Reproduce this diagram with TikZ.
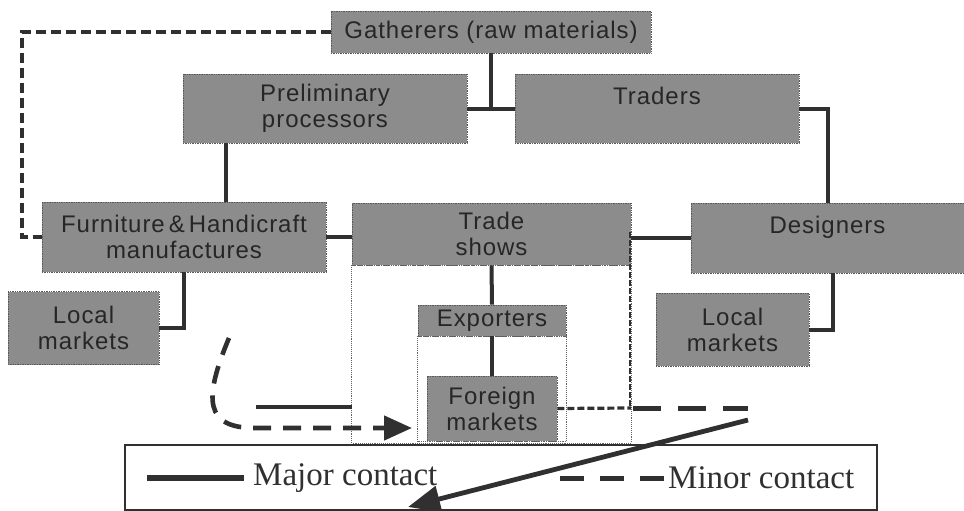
\documentclass[tikz,border=0pt]{standalone}
\usepackage{fontspec}
\setmainfont{Liberation Serif}
\newfontfamily\boxfont{Liberation Sans}[LetterSpace=4]
\usetikzlibrary{arrows.meta}
\definecolor{boxgray}{HTML}{8C8C8C}
\definecolor{ink}{HTML}{303030}
\definecolor{boxtext}{HTML}{262626}

\begin{document}
\begin{tikzpicture}[x=1pt,y=-1pt,
  box/.style={draw=ink!80, densely dotted, line width=0.7pt, fill=boxgray,
    text=boxtext, align=center, inner sep=0pt,
    font=\boxfont\fontsize{24}{26}\selectfont},
  major/.style={draw=ink, line width=4pt},
  minor/.style={draw=ink, line width=4pt, dash pattern=on 10pt off 5pt},
  frame/.style={draw=ink!75, line width=0.9pt, densely dotted},
  legend/.style={inner sep=0pt, text=ink, font=\fontsize{33}{36}\selectfont},
]
\useasboundingbox (0,0) rectangle (964,511);

% supply chain actors
\node[box, minimum width=320pt, minimum height=42pt] (gath) at (491,32) {Gatherers (raw materials)};
\node[box, minimum width=284pt, minimum height=69pt] (prelim) at (325,108.5) {Preliminary\\processors};
\node[box, minimum width=284pt, minimum height=69pt] (traders) at (657,108.5) {Traders\\\mbox{}};
\node[box, minimum width=284pt, minimum height=70pt] (furn) at (184,237) {Furniture\,\&\,Handicraft\\manufactures};
\node[box, minimum width=279pt, minimum height=62pt] (trade) at (491.5,234) {Trade\\shows};
\node[box, minimum width=273pt, minimum height=70pt] (design) at (827.5,238) {Designers\\\mbox{}};
\node[box, minimum width=151pt, minimum height=73pt] (localL) at (83.5,328) {Local\\markets};
\node[box, minimum width=153pt, minimum height=73pt] (localR) at (732.5,329.5) {Local\\markets};
\node[box, minimum width=148pt, minimum height=31pt] (export) at (492,320.5) {Exporters};
\node[box, minimum width=130pt, minimum height=65pt] (foreign) at (492,408.5) {Foreign\\markets};

% thin frames under trade shows and exporters
\draw[frame] (trade.south west) rectangle (631,443);
\draw[frame] (export.south west) rectangle (export.east |- foreign.south);

% major contacts
\draw[major] (prelim.east) -- (traders.west);
\draw[major] (gath.south) -- (gath.south |- prelim.east);
\draw[major] (traders.east) -| (design.north);
\draw[major] ([xshift=43pt]prelim.south west) -- ([xshift=43pt]prelim.south west |- furn.north);
\draw[major] (furn.east) -- (furn.east -| trade.west);
\draw[major] (design.west) -- (design.west -| trade.east);
\draw[major] (furn.south) |- (localL.east);
\draw[major] ([xshift=5.5pt]design.south) |- (localR.east);
\draw[major] (trade.south) -- (export.north);
\draw[major] (export.south) -- (foreign.north);
\coordinate (solidL) at (256,407);
\draw[major] (solidL) -- (solidL -| trade.west);

% minor contacts
\draw[minor] (gath.west) -| ([xshift=-20pt]furn.west) -- (furn.west);
\draw[ink, line width=2.6pt, dash pattern=on 6pt off 2pt] (630,232) -- (630,408);
\coordinate (fmEnd) at (748,408);
\draw[ink, line width=3.2pt, dash pattern=on 7pt off 3pt] (foreign.east) -- (631,408);
\draw[ink, line width=5pt, dash pattern=on 28pt off 17pt] (633,408) -- (fmEnd);

% arrows
\coordinate (curveS) at (229,338);
\coordinate (curveE) at (412,428);
\draw[ink, line width=4.6pt, dash pattern=on 18pt off 12pt,
  -{Triangle[length=28pt,width=24pt]}]
  (curveS) .. controls (203,400) and (205,428) .. (255,428) -- (curveE);
\coordinate (bigS) at (748,420);
\coordinate (bigE) at (408,507);
\draw[ink, line width=4.8pt, -{Triangle[length=32pt,width=26pt]}] (bigS) -- (bigE);

% legend
\draw[ink, line width=2pt] (125,445) rectangle (877,510);
\node[legend, anchor=west] (majtxt) at (253,478) {Major contact};
\node[legend, anchor=west] (mintxt) at (668,478) {Minor contact};
\coordinate (majA) at (147,478);
\coordinate (minA) at (560,478);
\draw[ink, line width=6pt] (majA) -- ([xshift=-9pt]majtxt.west);
\draw[ink, line width=5pt, dash pattern=on 24pt off 16pt] (minA) -- ([xshift=-2pt]mintxt.west);
\end{tikzpicture}
\end{document}
